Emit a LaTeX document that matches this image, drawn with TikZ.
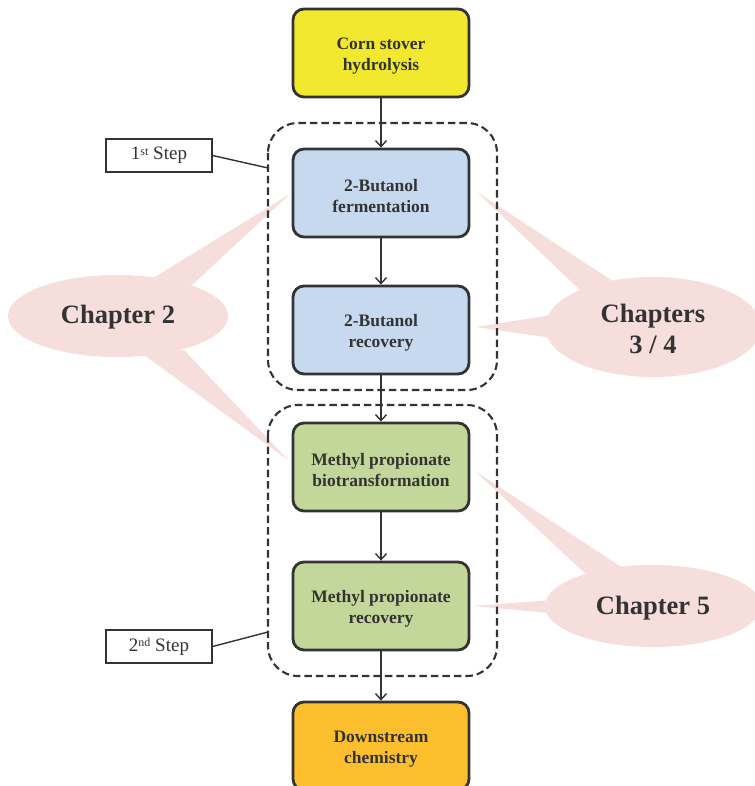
\documentclass[tikz,border=0pt]{standalone}
\usepackage{fontspec}
\setmainfont{Liberation Serif}
\usetikzlibrary{arrows.meta}
\definecolor{txt}{HTML}{333333}
\definecolor{cyel}{HTML}{F2E92E}
\definecolor{cblue}{HTML}{C6D9EF}
\definecolor{cgreen}{HTML}{C3D79B}
\definecolor{corange}{HTML}{FDBF2D}
\definecolor{cpink}{HTML}{F5DEDC}
\newcommand{\supx}[1]{\raisebox{0.55ex}{\fontsize{12}{12}\selectfont #1}}
\tikzset{
  procbox/.style={draw=txt, line width=2.8pt, rounded corners=11pt, minimum width=176pt, minimum height=88pt, align=center, text=txt, font=\fontsize{17.5}{21}\selectfont\bfseries, inner sep=0pt, text height=39pt},
  grpbox/.style={draw=txt, line width=2.1pt, dash pattern=on 7.5pt off 4pt, rounded corners=30pt},
  steplbl/.style={draw=txt, line width=1.2pt, minimum width=106pt, minimum height=33pt, inner sep=0pt, font=\fontsize{19}{20}\selectfont, text=txt, fill=white, text height=14pt, text depth=5pt},
  chaplbl/.style={font=\fontsize{26.5}{30}\selectfont\bfseries, text=txt, align=center},
  flow/.style={draw=txt, line width=1.4pt, -{Straight Barb[length=6pt,width=11pt,line width=1.4pt]}},
  leader/.style={draw=txt, line width=1.4pt},
  bubble/.style={fill=cpink, draw=none}
}
\begin{document}
\begin{tikzpicture}[x=1pt,y=-1pt]
\useasboundingbox (0,0) rectangle (754,786);
% callouts
\fill[bubble] (118,316) ellipse [x radius=110, y radius=41];
\fill[bubble] (150,280) -- (290,194) -- (192,285) -- cycle;
\fill[bubble] (140,352) -- (288,460) -- (184,350) -- cycle;
\fill[bubble] (653,327) ellipse [x radius=108, y radius=50];
\fill[bubble] (580,290) -- (477,192) -- (614,282) -- cycle;
\fill[bubble] (552,315) -- (476,327) -- (552,338) -- cycle;
\fill[bubble] (653,606) ellipse [x radius=108, y radius=41];
\fill[bubble] (588,576) -- (475,471) -- (626,570) -- cycle;
\fill[bubble] (552,600) -- (473,606) -- (552,613) -- cycle;
\node[chaplbl] (c2) at (118,317) {Chapter 2};
\node[chaplbl] (c34) at (653,329) {Chapters\\[1pt]3 / 4};
\node[chaplbl] (c5) at (653,608) {Chapter 5};
% groups
\draw[grpbox] (268,123) rectangle (497,390);
\draw[grpbox] (268,405) rectangle (497,676);
\coordinate (g1) at (268,168);
\coordinate (g2) at (268,632);
% nodes
\node[procbox, fill=cyel] (corn) at (381,53) {Corn stover\\hydrolysis};
\node[procbox, fill=cblue] (ferm) at (381,193) {2-Butanol\\fermentation};
\node[procbox, fill=cblue] (brec) at (381,330) {2-Butanol\\recovery};
\node[procbox, fill=cgreen] (bio) at (381,467) {Methyl propionate\\biotransformation};
\node[procbox, fill=cgreen] (mrec) at (381,606) {Methyl propionate\\recovery};
\node[procbox, fill=corange] (down) at (381,746) {Downstream\\chemistry};
% arrows
\draw[flow] (corn) -- (ferm);
\draw[flow] (ferm) -- (brec);
\draw[flow] (brec) -- (bio);
\draw[flow] (bio) -- (mrec);
\draw[flow] (mrec) -- (down);
% step labels
\node[steplbl] (s1) at (159,155.5) {1\supx{st} Step};
\node[steplbl] (s2) at (159,646.5) {2\supx{nd} Step};
\draw[leader] (s1.east) -- (g1);
\draw[leader] (s2.east) -- (g2);
\end{tikzpicture}
\end{document}
